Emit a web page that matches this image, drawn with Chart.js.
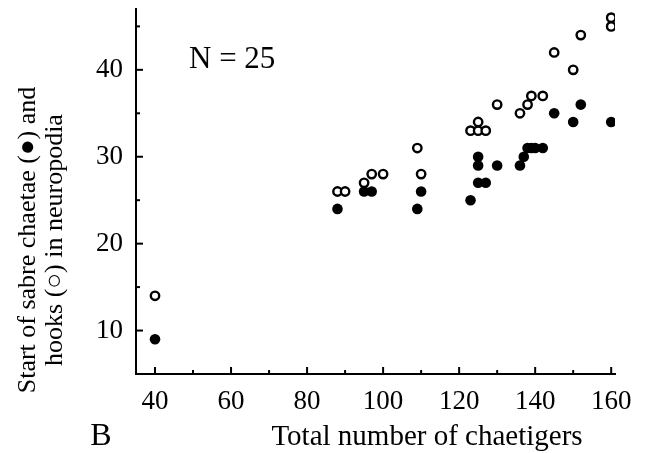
<!DOCTYPE html>
<html>
<head>
<meta charset="utf-8">
<script src="https://cdn.jsdelivr.net/npm/chart.js@4"></script>
<style>
  html, body { margin: 0; padding: 0; background: #fff; }
  #wrap { width: 651px; height: 453px; }
</style>
</head>
<body>
<div id="wrap"><canvas id="chart" width="651" height="453"></canvas></div>
<script>
// sabre chaetae start (filled dots)
const sabreX = [40, 88, 95, 97, 109, 110, 123, 125, 125, 125, 127, 130, 136, 137, 138, 139, 140, 142, 145, 150, 152, 160]
const sabreY = [9, 24, 26, 26, 24, 26, 25, 30, 29, 27, 27, 29, 29, 30, 31, 31, 31, 31, 35, 34, 36, 34]

// hooks start (open dots)
const hookX = [40, 88, 90, 95, 97, 100, 109, 110, 123, 125, 127, 125, 130, 136, 138, 139, 142, 145, 150, 152, 160, 160]
const hookY = [14, 26, 26, 27, 28, 28, 31, 28, 33, 33, 33, 34, 36, 35, 36, 37, 37, 42, 40, 44, 46, 45]

const xTicks = [40, 60, 80, 100, 120, 140, 160]
const yTicks = [10, 20, 30, 40]

const yTitle = ['Start of sabre chaetae (\u25CF) and', 'hooks (\u25CB) in neuropodia']
const xTitle = 'Total number of chaetigers'
const panelLabel = 'B'
const sampleNote = 'N = 25'

const SERIF = '"Liberation Serif", "Times New Roman", serif'

const toPoints = (xs, ys) => xs.map((x, i) => ({ x: x, y: ys[i] }))

/* ===============================
   TICKS POINTING INWARD + TEXTS
================================ */
const decorPlugin = {
  id: 'decor',
  afterDraw(chart) {
    const ctx = chart.ctx
    const xs = chart.scales.x
    const ys = chart.scales.y
    const area = chart.chartArea

    ctx.save()
    ctx.strokeStyle = '#000'
    ctx.lineWidth = 2

    xs.ticks.forEach(t => {
      const px = xs.getPixelForValue(t.value)
      const len = xTicks.includes(t.value) ? 7 : 4
      ctx.beginPath()
      ctx.moveTo(px, area.bottom)
      ctx.lineTo(px, area.bottom - len)
      ctx.stroke()
    })

    ys.ticks.forEach(t => {
      if (t.value <= ys.min) return
      const py = ys.getPixelForValue(t.value)
      const len = yTicks.includes(t.value) ? 7 : 4
      ctx.beginPath()
      ctx.moveTo(area.left, py)
      ctx.lineTo(area.left + len, py)
      ctx.stroke()
    })

    ctx.fillStyle = '#000'

    // y axis title, two rotated lines
    ctx.save()
    ctx.translate(0, 240)
    ctx.rotate(-Math.PI / 2)
    ctx.font = '26px ' + SERIF
    ctx.textAlign = 'center'
    ctx.textBaseline = 'middle'
    ctx.fillText(yTitle[0], 0, 28)
    ctx.fillText(yTitle[1], 0, 55)
    ctx.restore()

    ctx.textAlign = 'center'
    ctx.textBaseline = 'middle'
    ctx.font = '29px ' + SERIF
    ctx.fillText(xTitle, 427, 437)

    ctx.font = '32px ' + SERIF
    ctx.fillText(panelLabel, 101, 437)

    ctx.textAlign = 'left'
    ctx.font = '31px ' + SERIF
    ctx.fillText(sampleNote, 189, 60)

    ctx.restore()
  }
}

const ctx = document.getElementById('chart')

new Chart(ctx, {
  type: 'scatter',
  data: {
    datasets: [
      {
        label: 'sabre chaetae',
        data: toPoints(sabreX, sabreY),
        pointRadius: 5.3,
        pointBackgroundColor: '#000',
        pointBorderColor: '#000',
        pointBorderWidth: 0
      },
      {
        label: 'hooks',
        data: toPoints(hookX, hookY),
        pointRadius: 4.2,
        pointBackgroundColor: '#fff',
        pointBorderColor: '#000',
        pointBorderWidth: 2.4
      }
    ]
  },
  options: {
    responsive: false,
    animation: false,
    layout: { padding: { left: 0, top: 9, right: 36, bottom: 0 } },
    plugins: {
      legend: { display: false },
      tooltip: { enabled: false }
    },
    scales: {
      x: {
        type: 'linear',
        min: 35,
        max: 161,
        grid: { display: false },
        border: { display: true, color: '#000', width: 2 },
        ticks: {
          stepSize: 10,
          includeBounds: false,
          autoSkip: false,
          maxRotation: 0,
          padding: 4,
          color: '#000',
          font: { family: SERIF, size: 27 },
          callback: v => xTicks.includes(v) ? v : ''
        },
        afterFit: scale => {
          scale.height = 79
          scale.paddingLeft = 0
          scale.paddingRight = 0
        }
      },
      y: {
        type: 'linear',
        min: 5,
        max: 47,
        grid: { display: false },
        border: { display: true, color: '#000', width: 2 },
        ticks: {
          stepSize: 5,
          includeBounds: false,
          autoSkip: false,
          padding: 5,
          color: '#000',
          font: { family: SERIF, size: 27 },
          callback: v => yTicks.includes(v) ? v : ''
        },
        afterFit: scale => {
          scale.width = 136
          scale.paddingTop = 0
          scale.paddingBottom = 0
        }
      }
    }
  },
  plugins: [decorPlugin]
})
</script>
</body>
</html>
